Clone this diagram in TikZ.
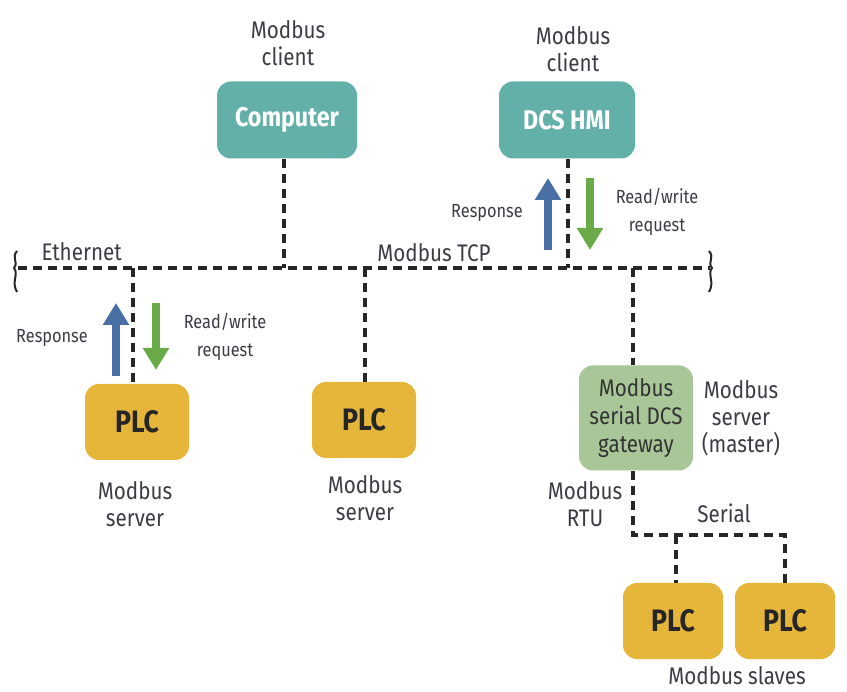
\documentclass[tikz,border=0pt]{standalone}
\usepackage{fontspec}
\setmainfont{Fira Sans}[FakeStretch=0.86]
\usetikzlibrary{arrows.meta}
\definecolor{teal1}{HTML}{63B0A9}
\definecolor{plcy}{HTML}{E6B63A}
\definecolor{gwg}{HTML}{A8C698}
\definecolor{txt}{HTML}{3C3C44}
\definecolor{arrb}{HTML}{4870A4}
\definecolor{arrg}{HTML}{6AAA48}
\tikzset{
  bus/.style={line width=3.4pt, dash pattern=on 9pt off 6pt, black!85},
  box/.style={rounded corners=14pt, inner sep=0pt, align=center},
  client/.style={box, fill=teal1, minimum width=140pt, minimum height=77pt, text=white, font=\bfseries\fontsize{27}{30}\selectfont},
  plc/.style={box, fill=plcy, minimum width=104pt, minimum height=76pt, text=black!85, font=\bfseries\fontsize{31}{33}\selectfont},
  gw/.style={box, fill=gwg, minimum width=114pt, minimum height=105pt, text=black!80, font=\fontsize{24}{28}\selectfont},
  lbl/.style={text=txt, align=center, font=\fontsize{24}{27}\selectfont},
  slbl/.style={text=txt, align=center, font=\fontsize{19}{28}\selectfont},
  up/.style={line width=8.5pt, arrb, -{Triangle[length=22pt,width=25pt]}},
  down/.style={line width=8.5pt, arrg, -{Triangle[length=22pt,width=25pt]}},
  brace/.style={line width=2pt, black!85}
}
\begin{document}
\begin{tikzpicture}[x=1pt,y=-1pt]
\useasboundingbox (0,0) rectangle (847,692);
% nodes
\node[client] (comp) at (287,120) {Computer};
\node[client, minimum width=136pt] (hmi) at (567,120) {DCS HMI};
\node[plc] (plc1) at (137,422) {PLC};
\node[plc] (plc2) at (364,420) {PLC};
\node[gw] (gw) at (636,418) {Modbus\\serial DCS\\gateway};
\node[plc, minimum width=100pt] (plc3) at (673,621) {PLC};
\node[plc, minimum width=100pt] (plc4) at (785,621) {PLC};
% labels
\node[lbl] (lc1) at (288,43) {Modbus\\client};
\node[lbl] (lc2) at (573,49) {Modbus\\client};
\node[lbl, anchor=west] (leth) at (38,252) {Ethernet};
\node[lbl] (ltcp) at (434,253) {Modbus TCP};
\node[lbl] (ls1) at (135,504) {Modbus\\server};
\node[lbl] (ls2) at (365,498) {Modbus\\server};
\node[lbl] (lsm) at (741,418) {Modbus\\server\\(master)};
\node[lbl] (lrtu) at (585,504) {Modbus\\RTU};
\node[lbl] (lser) at (724,513) {Serial};
\node[lbl] (lslv) at (737,676) {Modbus slaves};
\node[slbl] (lr1) at (52,338) {Response};
\node[slbl] (lrw1) at (225,337) {Read/write\\request};
\node[slbl] (lr2) at (487,213) {Response};
\node[slbl] (lrw2) at (657,212) {Read/write\\request};
% bus
\coordinate (busL) at (18,268);
\coordinate (busR) at (710,268);
\coordinate (b1) at (133,268);
\coordinate (bc) at (284,268);
\coordinate (b2) at (365,268);
\coordinate (bh) at (568,268);
\coordinate (b3) at (633,268);
\draw[bus] (busL) -- (busR);
\draw[bus] (comp.south -| bc) -- (bc);
\draw[bus] (hmi.south -| bh) -- (bh);
\draw[bus] (b1) -- (plc1.north -| b1);
\draw[bus] (b2) -- (plc2.north -| b2);
\draw[bus] (b3) -- (gw.north -| b3);
% serial
\coordinate (s0) at (633,535);
\coordinate (s1) at (676,535);
\coordinate (s2) at (785,535);
\draw[bus] (gw.south -| s0) -- (s0) -- (s2) -- (plc4.north -| s2);
\draw[bus] (s1) -- (plc3.north -| s1);
% brace ends
\draw[brace] (17,251) .. controls (11,258) and (19,262) .. (14,268) .. controls (19,274) and (11,282) .. (17,292);
\draw[brace] (709,251) .. controls (715,258) and (707,262) .. (712,268) .. controls (707,274) and (715,282) .. (709,292);
% arrows
\coordinate (a1s) at (116,376);
\coordinate (a1e) at (116,303);
\coordinate (a2s) at (156,303);
\coordinate (a2e) at (156,370);
\coordinate (a3s) at (548,250);
\coordinate (a3e) at (548,178);
\coordinate (a4s) at (590,178);
\coordinate (a4e) at (590,250);
\draw[up] (a1s) -- (a1e);
\draw[down] (a2s) -- (a2e);
\draw[up] (a3s) -- (a3e);
\draw[down] (a4s) -- (a4e);
\end{tikzpicture}
\end{document}
